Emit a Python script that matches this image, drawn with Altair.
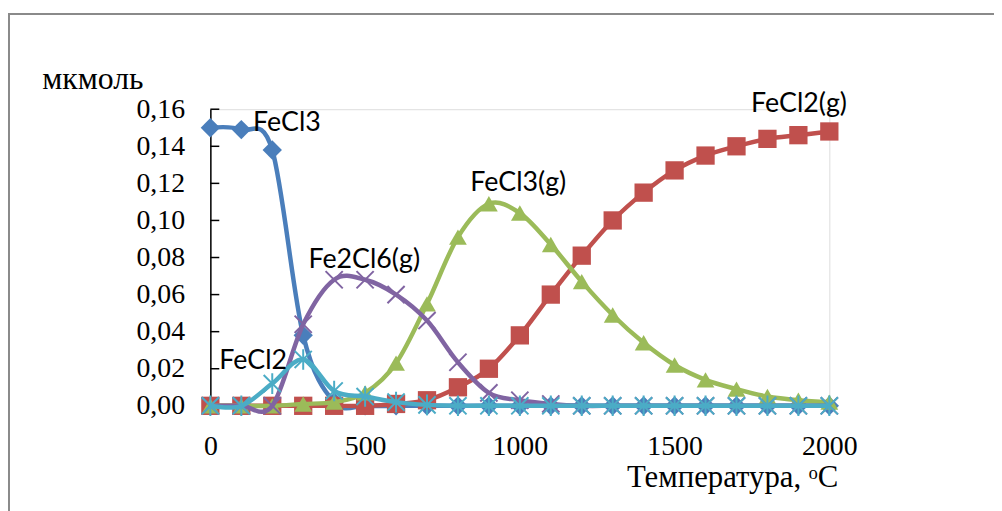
import altair as alt
import pandas as pd

# ---- data ----
temps = list(range(0, 2001, 100))
fecl3 = [0.150, 0.149, 0.138, 0.038, 0.002, 0, 0, 0, 0, 0, 0,
         0, 0, 0, 0, 0, 0, 0, 0, 0, 0]
fecl2_g = [0, 0, 0, 0, 0, 0, 0.001, 0.003, 0.010, 0.020, 0.038,
           0.060, 0.081, 0.100, 0.115, 0.127, 0.135, 0.140, 0.144, 0.146, 0.148]
fecl3_g = [0, 0, 0, 0.001, 0.002, 0.007, 0.023, 0.055, 0.091, 0.109, 0.104,
           0.087, 0.067, 0.049, 0.034, 0.022, 0.014, 0.009, 0.005, 0.003, 0.002]
fe2cl6_g = [0, 0, 0, 0.044, 0.068, 0.068, 0.060, 0.046, 0.0235, 0.007, 0.003,
            0.001, 0, 0, 0, 0, 0, 0, 0, 0, 0]
fecl2 = [0, 0, 0.012, 0.025, 0.008, 0.005, 0.002, 0.0005, 0, 0, 0,
         0, 0, 0, 0, 0, 0, 0, 0, 0, 0]

series_names = ["FeCl3", "FeCl2(g)", "FeCl3(g)", "Fe2Cl6(g)", "FeCl2"]
series_values = [fecl3, fecl2_g, fecl3_g, fe2cl6_g, fecl2]
series_colors = ["#4A7EBB", "#C0504D", "#9BBB59", "#8064A2", "#4BACC6"]

label_text = ["FeCl3", "Fe2Cl6(g)", "FeCl3(g)", "FeCl2(g)", "FeCl2"]
label_T = [138, 317, 840, 1747, 29]
label_v = [0.1525, 0.0787, 0.1199, 0.1627, 0.0241]

x_ticks = [0, 500, 1000, 1500, 2000]
y_ticks = [0, 0.02, 0.04, 0.06, 0.08, 0.10, 0.12, 0.14, 0.16]

# ---- styles ----
X_SHAPE = "M-1,-1L1,1M-1,1L1,-1"
STAR_SHAPE = "M-1,-1L1,1M-1,1L1,-1M0,-1.2L0,1.2"
marker_styles = [
    dict(shape="diamond", size=380, filled=True),
    dict(shape="square", size=340, filled=True),
    dict(shape="triangle-up", size=320, filled=True),
    dict(shape=X_SHAPE, size=300, filled=False, strokeWidth=2),
    dict(shape=STAR_SHAPE, size=300, filled=False, strokeWidth=2),
]

xs = alt.Scale(domain=[0, 2000], nice=False, zero=False)
ys = alt.Scale(domain=[0, 0.16], nice=False)

serif = "Liberation Serif"

x_axis = alt.Axis(values=x_ticks, title="Температура, ᵒC",
                  labelExpr="format(datum.value, 'd')")
y_axis = alt.Axis(values=y_ticks, title="мкмоль",
                  labelExpr="replace(format(datum.value, '.2f'), '.', ',')")

layers = []

# chart frame
frame = alt.Chart(pd.DataFrame({"a": [0]})).mark_rect(
    fillOpacity=0, stroke="#8a8a8a", strokeWidth=2
).encode(x=alt.value(-203), x2=alt.value(820), y=alt.value(-96), y2=alt.value(430))
layers.append(frame)

# inward y-axis ticks
tick_df = pd.DataFrame({"v": y_ticks})
ticks_layer = alt.Chart(tick_df).mark_rule(color="black", strokeWidth=1.5).encode(
    y=alt.Y("v:Q", scale=ys, axis=y_axis),
    x=alt.value(0), x2=alt.value(9),
)
layers.append(ticks_layer)

for name, vals, col, ms in zip(series_names, series_values, series_colors, marker_styles):
    df = pd.DataFrame({"T": temps, "v": vals, "s": name})
    base = alt.Chart(df)
    xenc = alt.X("T:Q", scale=xs, axis=x_axis)
    yenc = alt.Y("v:Q", scale=ys, axis=y_axis)
    line = base.mark_line(color=col, strokeWidth=4.5, interpolate="cardinal", tension=0).encode(
        x=xenc, y=yenc)
    pkw = dict(shape=ms["shape"], size=ms["size"], filled=ms["filled"], opacity=1)
    if ms["filled"]:
        pkw["color"] = col
    else:
        pkw["stroke"] = col
        pkw["strokeWidth"] = ms["strokeWidth"]
    pts = base.mark_point(**pkw).encode(x=xenc, y=yenc)
    layers += [line, pts]

lab_df = pd.DataFrame({"t": label_text, "T": label_T, "v": label_v})
labels = alt.Chart(lab_df).mark_text(
    align="left", baseline="middle", font="Lato", fontSize=27, color="black"
).encode(x=alt.X("T:Q", scale=xs, axis=x_axis), y=alt.Y("v:Q", scale=ys, axis=y_axis), text="t:N")
layers.append(labels)

chart = alt.layer(*layers).properties(
    width=624, height=299,
    autosize=alt.AutoSizeParams(type="none"),
    padding={"left": 204, "top": 100, "right": 166, "bottom": 104},
).configure_view(stroke=None).configure(background="white").configure_axis(
    grid=False, ticks=False, domainColor="black", domainWidth=1.5,
    labelFont=serif, labelFontSize=28, labelColor="black",
    titleFont=serif, titleFontSize=31, titleFontWeight="normal", titleColor="black",
).configure_axisX(
    labelBaseline="alphabetic", labelPadding=49, labelFlush=False,
    titleX=526, titleY=81, titleBaseline="alphabetic", titleAlign="center",
).configure_axisY(
    labelPadding=26, labelBaseline="middle", titleFontSize=32,
    titleAngle=0, titleX=-170, titleY=-21, titleAlign="left", titleBaseline="alphabetic",
)

chart.save("out.html", embed_options={"renderer": "svg", "actions": False})
